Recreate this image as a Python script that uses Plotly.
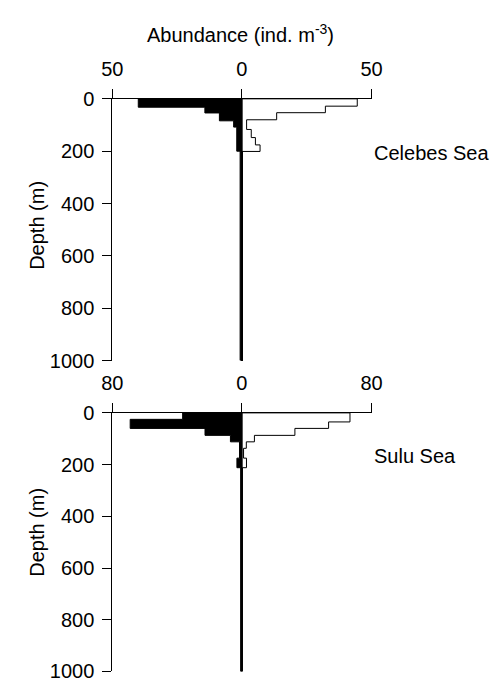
import plotly.graph_objects as go

# ---------------- data ----------------
# Celebes Sea: depth-bin edges (m) and abundances (ind. m^-3)
cel_black_edges = [0, 32, 54, 84, 108, 200, 1000]
cel_black_vals = [40.0, 14.3, 8.7, 3.2, 2.0, 0.7]
cel_white_edges = [0, 28, 53, 80, 117, 148, 176, 201]
cel_white_vals = [44.5, 32.2, 13.4, 1.8, 3.6, 5.2, 7.0]

# Sulu Sea
sulu_black_edges = [0, 25, 60, 87, 112, 175, 212, 1000]
sulu_black_vals = [36.6, 69.0, 22.8, 7.1, 1.5, 3.1, 0.8]
sulu_white_edges = [0, 35, 60, 87, 112, 137, 175, 212, 1000]
sulu_white_vals = [66.7, 53.5, 32.7, 7.7, 2.7, 1.0, 2.8, 0.3]

depth_ticks = [0, 200, 400, 600, 800, 1000]
cel_xticks = [50, 0, 50]
sulu_xticks = [80, 0, 80]

FONT = "Liberation Sans, Arial, Helvetica, sans-serif"
W, H = 503, 696


def step_path(edges, vals, sign):
    xs = [0]
    ys = [edges[0]]
    for i, v in enumerate(vals):
        xs += [sign * v, sign * v]
        ys += [edges[i], edges[i + 1]]
    xs += [0, 0]
    ys += [edges[-1], edges[0]]
    return xs, ys


fig = go.Figure()


def add_panel(black_e, black_v, white_e, white_v, xa, ya):
    xw, yw = step_path(white_e, white_v, 1)
    fig.add_trace(go.Scatter(x=xw, y=yw, mode="lines", fill="toself",
                             fillcolor="white", line=dict(color="black", width=1),
                             xaxis=xa, yaxis=ya, showlegend=False, hoverinfo="skip"))
    xb, yb = step_path(black_e, black_v, -1)
    fig.add_trace(go.Scatter(x=xb, y=yb, mode="lines", fill="toself",
                             fillcolor="black", line=dict(color="black", width=1),
                             xaxis=xa, yaxis=ya, showlegend=False, hoverinfo="skip"))


add_panel(cel_black_edges, cel_black_vals, cel_white_edges, cel_white_vals, "x", "y")
add_panel(sulu_black_edges, sulu_black_vals, sulu_white_edges, sulu_white_vals, "x2", "y2")

xdom = [106 / W, 377 / W]


def xaxis_cfg(ticks, anchor):
    m = ticks[-1]
    return dict(domain=xdom, anchor=anchor, side="top", range=[-m, m],
                tickvals=[-m, 0, m], ticktext=[str(t) for t in ticks],
                ticks="outside", ticklen=9, tickwidth=1, tickcolor="black",
                ticklabelstandoff=5,
                showline=True, linecolor="black", linewidth=1,
                showgrid=False, zeroline=True, zerolinecolor="black",
                zerolinewidth=2, fixedrange=True,
                tickfont=dict(family=FONT, size=20, color="black"))


def yaxis_cfg(dom, anchor):
    return dict(domain=dom, anchor=anchor, range=[1000, 0],
                tickvals=depth_ticks, ticktext=[str(t) for t in depth_ticks],
                ticks="outside", ticklen=9, tickwidth=1, tickcolor="black",
                ticklabelstandoff=4,
                showline=True, linecolor="black", linewidth=1,
                showgrid=False, zeroline=False,
                tickfont=dict(family=FONT, size=20, color="black"))


fig.update_layout(
    width=W, height=H, margin=dict(l=0, r=0, t=0, b=0),
    paper_bgcolor="white", plot_bgcolor="white",
    xaxis=xaxis_cfg(cel_xticks, "y"),
    yaxis=yaxis_cfg([1 - 361 / H, 1 - 90.7 / H], "x"),
    xaxis2=xaxis_cfg(sulu_xticks, "y2"),
    yaxis2=yaxis_cfg([1 - 682 / H, 1 - 415 / H], "x2"),
    font=dict(family=FONT, size=20, color="black"),
)

ann = [
    dict(text="Abundance (ind. m<sup>-3</sup>)", x=240 / W, y=1 - 23 / H,
         xanchor="center", yanchor="middle"),
    dict(text="Celebes Sea", x=377 / W, y=1 - 147 / H, xanchor="left", yanchor="middle"),
    dict(text="Sulu Sea", x=377 / W, y=1 - 460 / H, xanchor="left", yanchor="middle"),
    dict(text="Depth (m)", x=27 / W, y=1 - 221 / H, textangle=-90,
         xanchor="center", yanchor="middle"),
    dict(text="Depth (m)", x=27 / W, y=1 - 538 / H, textangle=-90,
         xanchor="center", yanchor="middle"),
]
for a in ann:
    a.update(xref="paper", yref="paper", showarrow=False,
             font=dict(family=FONT, size=20, color="black"))
fig.update_layout(annotations=ann)

fig.write_html("out.html")
